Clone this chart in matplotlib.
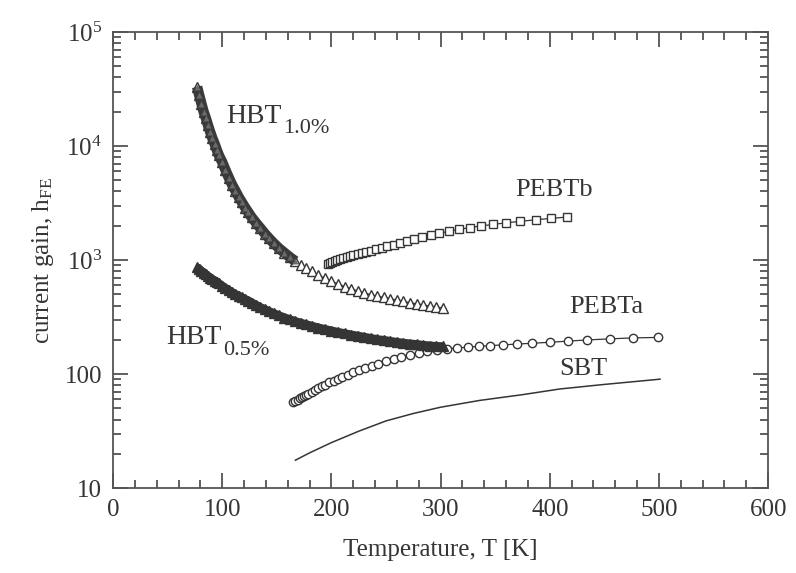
import numpy as np
import matplotlib
matplotlib.use("Agg")
import matplotlib.pyplot as plt
from matplotlib.ticker import FixedLocator, MultipleLocator, LogLocator, NullFormatter

plt.rcParams['font.family'] = ['Liberation Serif', 'DejaVu Serif']
plt.rcParams['mathtext.fontset'] = 'custom'
plt.rcParams['mathtext.rm'] = 'Liberation Serif'
plt.rcParams['mathtext.it'] = 'Liberation Serif'

# temperatures [K] and current gain values
t_hbt = [77, 79, 81, 83, 85, 87, 89, 91, 93, 95, 97, 100, 103, 106, 109, 112, 115, 118,
         121, 124, 127, 131, 135, 139, 143, 147, 152, 157, 162, 167, 172, 177, 182, 188,
         194, 200, 206, 212, 218, 224, 230, 236, 242, 248, 254, 260, 266, 272, 278, 284,
         290, 296, 302]
hbt10 = [33100, 27800, 23500, 20000, 17600, 15200, 13300, 11700, 10500, 9290, 8280, 7240,
         6170, 5300, 4590, 4070, 3590, 3220, 2890, 2620, 2370, 2120, 1905, 1710, 1550, 1413,
         1270, 1160, 1060, 980, 910, 847, 796, 740, 692, 652, 617, 586, 560, 536, 515, 498,
         481, 471, 458, 446, 434, 423, 413, 405, 395, 387, 380]
hbt05 = [871, 838, 805, 776, 750, 726, 703, 682, 662, 646, 625, 596, 569, 546, 524, 505,
         487, 471, 455, 441, 425, 405, 386, 371, 356, 343, 327, 314, 302, 291, 282, 273,
         265, 256, 248, 241, 234, 228, 222, 217, 212, 207, 202, 199, 195, 191, 188, 185,
         183, 180, 178, 176, 175]

t_pebtb = [197, 199, 201, 203, 205, 208, 211, 214, 217, 220, 224, 228, 232, 236, 241, 246,
           251, 257, 263, 269, 276, 283, 291, 299, 308, 317, 327, 337, 348, 360, 373, 387,
           401, 416]
pebtb = [933, 948, 964, 979, 995, 1019, 1042, 1064, 1084, 1104, 1130, 1156, 1183, 1211,
         1245, 1279, 1318, 1365, 1413, 1466, 1528, 1585, 1652, 1718, 1795, 1862, 1932, 1995,
         2056, 2123, 2188, 2259, 2323, 2388]

t_pebta = [165, 167, 169, 171, 173, 175, 177, 179, 182, 185, 188, 191, 194, 198, 202, 206,
           210, 215, 220, 225, 231, 237, 243, 250, 257, 264, 272, 280, 288, 297, 306, 315,
           325, 335, 345, 357, 370, 384, 400, 417, 434, 455, 476, 499]
pebta = [56.9, 58.3, 59.7, 61.2, 62.8, 64.3, 65.9, 67.5, 70.0, 72.6, 75.3, 78.2, 81.1, 84.9,
         87.9, 91.2, 94.6, 99.1, 103.8, 108.6, 113.8, 118.9, 123.9, 129.7, 135.8, 141.9,
         148.6, 154.2, 158.9, 162.9, 166.7, 169.8, 172.6, 175.4, 177.8, 180.7, 183.7, 186.6,
         190.5, 195, 199.5, 204, 208, 210]

t_sbt = [167, 180, 200, 225, 250, 275, 300, 336, 375, 409, 450, 501]
sbt = [17.6, 20.4, 25.1, 31.6, 38.9, 45.2, 51.3, 58.9, 66.1, 74.1, 81.3, 90.4]

ytick_vals = [10, 100, 1e3, 1e4, 1e5]
ytick_labels = ['10', '100', '10$^3$', '10$^4$', '10$^5$']

ink = '#353535'
n_dense = 30  # HBT1.0% points drawn as a solid band (dense region, T <= 167 K)

fig = plt.figure(figsize=(7.96, 5.73), dpi=100)
ax = fig.add_axes([0.142, 0.148, 0.823, 0.796])

ax.plot(t_sbt, sbt, '-', color=ink, lw=1.1)
ax.plot(t_pebta, pebta, '-o', color=ink, lw=0.9, ms=6, mfc='white', mec=ink, mew=1.0)
ax.plot(t_pebtb, pebtb, '-s', color=ink, lw=0.9, ms=6, mfc='white', mec=ink, mew=1.0)

# HBT 1.0 %: open triangles, overlapping into a dark band at low T
ax.plot(t_hbt, hbt10, '-^', color=ink, lw=1.0, ms=7, mfc='white', mec=ink, mew=1.0)
ax.plot(t_hbt[:n_dense], hbt10[:n_dense], '-', color='#3a3a3a', lw=7.5,
        solid_capstyle='butt', zorder=3)
ax.plot(t_hbt[:n_dense], hbt10[:n_dense], '^', ms=5, mfc='#6a6a6a', mec='none', zorder=3.5)

# HBT 0.5 %: filled triangles
ax.plot(t_hbt, hbt05, '-', color=ink, lw=6, solid_capstyle='butt')
ax.plot(t_hbt, hbt05, '^', ms=7.5, mfc=ink, mec=ink, mew=1.0)

ax.set_yscale('log')
ax.set_xlim(0, 600)
ax.set_ylim(10, 1e5)

ax.xaxis.set_major_locator(MultipleLocator(100))
ax.xaxis.set_minor_locator(MultipleLocator(20))
ax.yaxis.set_major_locator(FixedLocator(ytick_vals))
ax.set_yticklabels(ytick_labels)
ax.yaxis.set_minor_locator(LogLocator(base=10, subs=np.arange(2, 10)))
ax.yaxis.set_minor_formatter(NullFormatter())

ax.tick_params(which='both', direction='in', top=True, right=True, colors=ink,
               labelsize=18, width=1.1)
ax.tick_params(which='major', length=11, pad=8)
ax.tick_params(which='minor', length=5.5)
for s in ax.spines.values():
    s.set_color('#555555')
    s.set_linewidth(1.3)

ax.set_xlabel('Temperature, T [K]', fontsize=18, color=ink, labelpad=13)
ax.set_ylabel('current gain, h$_{\\mathrm{FE}}$', fontsize=18, color=ink, labelpad=6)

txt = dict(fontsize=20, color=ink, va='baseline', ha='left')
sub = dict(fontsize=16, color=ink, va='baseline', ha='left')
ax.text(104, 16000, 'HBT', **txt)
ax.annotate('1.0%', (104, 16000), xytext=(41, -7), textcoords='offset points', **sub)
ax.text(49, 185, 'HBT', **txt)
ax.annotate('0.5%', (49, 185), xytext=(41, -8), textcoords='offset points', **sub)
ax.text(368, 4100, 'PEBTb', fontsize=19, color=ink, va='center', ha='left')
ax.text(418, 385, 'PEBTa', fontsize=19, color=ink, va='center', ha='left')
ax.text(409, 112, 'SBT', fontsize=19, color=ink, va='center', ha='left')

fig.savefig('out.png', dpi=100)
